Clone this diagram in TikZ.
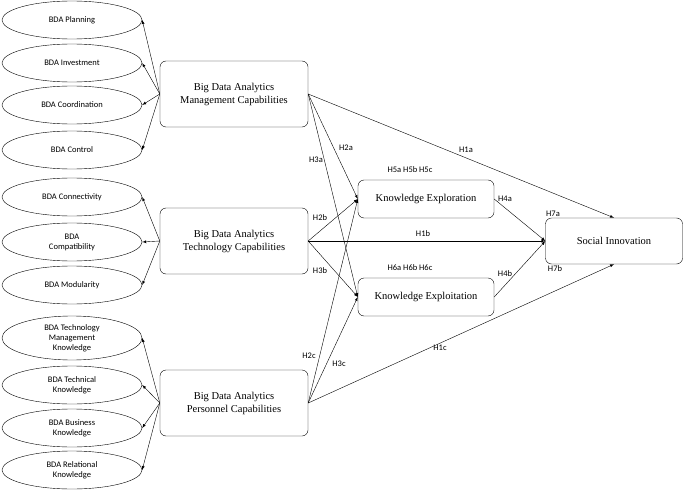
\documentclass[tikz,border=0pt]{standalone}
\usepackage{fontspec}
\setmainfont{Liberation Serif}
\newfontfamily\lblfont{Carlito}
\usetikzlibrary{shapes.geometric,arrows}
\tikzset{>=latex}

\begin{document}
\begin{tikzpicture}[x=1pt,y=-1pt,
        dim/.style={draw,ellipse,minimum width=140pt,minimum height=38pt,
          inner sep=0pt,align=center,font=\lblfont\fontsize{8.5}{10}\selectfont},
        capab/.style={draw,rounded corners=6pt,minimum width=148pt,minimum height=66pt,
          align=center,font=\fontsize{10.5}{13}\selectfont},
        know/.style={draw,rounded corners=6pt,minimum width=136pt,minimum height=38pt,
          font=\fontsize{10.5}{13}\selectfont},
        hyp/.style={font=\lblfont\fontsize{8.5}{10}\selectfont,inner sep=1pt},
        link/.style={draw,->}]
        \useasboundingbox (0,0) rectangle (685,492);
        % capabilities
        \node[capab] (mgmt) at (234,94) {Big Data Analytics\\Management Capabilities};
        \node[capab] (tech) at (234,241) {Big Data Analytics\\Technology Capabilities};
        \node[capab] (pers) at (234,403) {Big Data Analytics\\Personnel Capabilities};
        \node[know] (explo) at (426,199) {Knowledge Exploration};
        \node[know] (explt) at (426,297) {Knowledge Exploitation};
        \node[draw,rounded corners=6pt,minimum width=137pt,minimum height=46pt,
          font=\fontsize{10.5}{13}\selectfont] (soc) at (614,241) {Social Innovation};
        % dimensions
        \node[dim] (plan) at (72,20) {BDA Planning};
        \node[dim] (inv) at (72,63) {BDA Investment};
        \node[dim] (coord) at (72,105) {BDA Coordination};
        \node[dim] (ctrl) at (72,150) {BDA Control};
        \node[dim] (conn) at (72,197) {BDA Connectivity};
        \node[dim] (compat) at (72,242) {BDA\\Compatibility};
        \node[dim] (modul) at (72,285) {BDA Modularity};
        \node[dim,minimum height=44pt] (tmk) at (72,338) {BDA Technology\\Management\\Knowledge};
        \node[dim] (techk) at (72,385) {BDA Technical\\Knowledge};
        \node[dim] (busk) at (72,428) {BDA Business\\Knowledge};
        \node[dim] (relk) at (72,470) {BDA Relational\\Knowledge};
        \foreach \d in {plan,inv,coord,ctrl}
          \draw[link] (mgmt.west) -- (\d.east);
        \foreach \d in {conn,compat,modul}
          \draw[link] (tech.west) -- (\d.east);
        \foreach \d in {tmk,techk,busk,relk}
          \draw[link] (pers.west) -- (\d.east);
        % paths
        \draw[link] (mgmt.east) -- (explo.west);
        \draw[link] (mgmt.east) -- (explt.west);
        \draw[link] (mgmt.east) -- (soc.north);
        \draw[link] (tech.east) -- (explo.west);
        \draw[link] (tech.east) -- (explt.west);
        \draw[link] (tech.east) -- (soc.west);
        \draw[link] (pers.east) -- (explo.west);
        \draw[link] (pers.east) -- (explt.west);
        \draw[link] (pers.east) -- (soc.south);
        \draw[link] (explo.east) -- (soc.west);
        \draw[link] (explt.east) -- (soc.west);
        % labels
        \node[hyp] (h2a) at (346,148) {H2a};
        \node[hyp] (h3a) at (316,160) {H3a};
        \node[hyp] (h1a) at (466,150) {H1a};
        \node[hyp] (h2b) at (320,218) {H2b};
        \node[hyp] (h1b) at (423,234) {H1b};
        \node[hyp] (h3b) at (320,271) {H3b};
        \node[hyp] (h2c) at (309,356) {H2c};
        \node[hyp] (h3c) at (339,364) {H3c};
        \node[hyp] (h1c) at (440,348) {H1c};
        \node[hyp] (h5) at (410,170) {H5a H5b H5c};
        \node[hyp] (h6) at (410,268) {H6a H6b H6c};
        \node[hyp] (h4a) at (505,199) {H4a};
        \node[hyp] (h4b) at (505,274) {H4b};
        \node[hyp] (h7a) at (553,214) {H7a};
        \node[hyp] (h7b) at (555,269) {H7b};
\end{tikzpicture}
\end{document}
